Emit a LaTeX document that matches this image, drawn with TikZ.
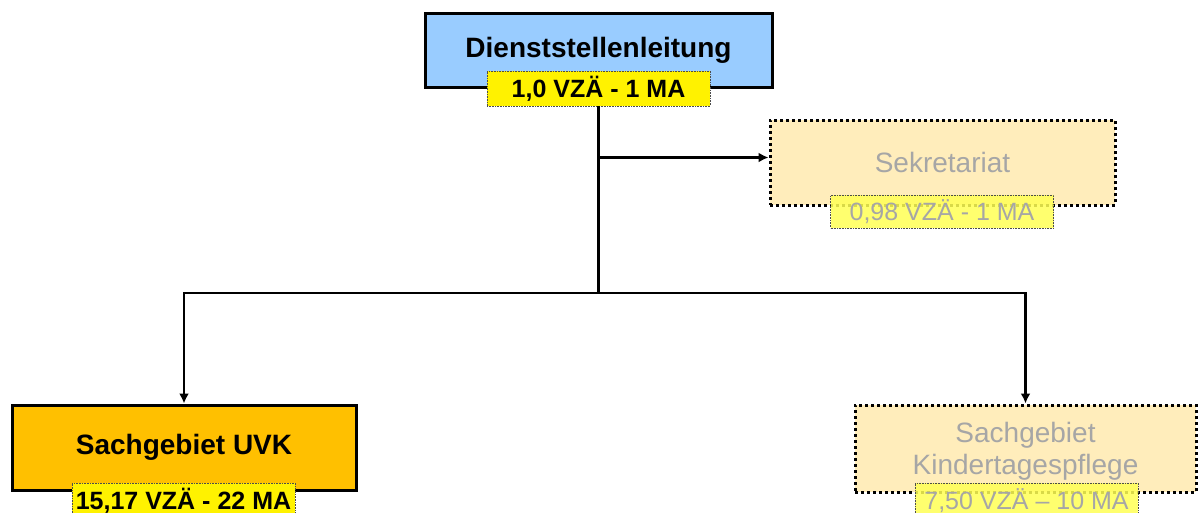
\documentclass[tikz,border=0pt]{standalone}
\usepackage{fontspec}
\setmainfont{Liberation Sans}
\usetikzlibrary{arrows.meta}
\definecolor{leadblue}{HTML}{99CCFF}
\definecolor{uvkorange}{HTML}{FFC000}
\definecolor{palefill}{HTML}{FFEDBB}
\definecolor{paleyellow}{HTML}{FFFF55}
\definecolor{fadedtext}{HTML}{A6A6A6}
\tikzset{unit box/.style={rectangle,draw=black,line width=3pt,inner sep=0pt,align=center,
    font=\fontsize{28}{32}\selectfont},
  faded box/.style={unit box,fill=palefill,text=fadedtext,dash pattern=on 3pt off 3pt},
  count box/.style={rectangle,fill=yellow,draw=black!70,line width=0.6pt,densely dotted,
    inner sep=0pt,minimum width=223pt,minimum height=35pt,font=\bfseries\fontsize{25}{28}\selectfont},
  faded count/.style={count box,fill=paleyellow,fill opacity=0.85,text opacity=1,text=fadedtext,
    font=\fontsize{25}{28}\selectfont},
  link/.style={draw,line width=2.8pt,-{Latex[length=10pt,width=10pt]}},
}

\begin{document}
\begin{tikzpicture}[x=1pt,y=-1pt]
				\useasboundingbox (0,0) rectangle (1198,512);
				% leitung
				\node[unit box,fill=leadblue,minimum width=347pt,minimum height=74pt,font=\bfseries\fontsize{28}{32}\selectfont] (DL) at (598.5,50) {Dienststellenleitung};
				\node[count box] (DLcount) at (598.5,88.5) {1,0 VZÄ - 1 MA};
				
				% stabsstelle
				\node[faded box,minimum width=345pt,minimum height=85pt] (SEK) at (942.5,162.5) {Sekretariat};
				\node[faded count,minimum height=33pt] (SEKcount) at (942,211.5) {0,98 VZÄ - 1 MA};
				
				% sachgebiete
				\node[unit box,fill=uvkorange,minimum width=344pt,minimum height=85pt,font=\bfseries\fontsize{28}{32}\selectfont] (UVK) at (184,447.5) {Sachgebiet UVK};
				\node[count box] (UVKcount) at (183.5,500.5) {15,17 VZÄ - 22 MA};
				
				\node[faded box,minimum width=341pt,minimum height=87pt,text depth=0pt] (KTP) at (1025.5,448.5) {Sachgebiet\\Kindertagespflege};
				\node[faded count] (KTPcount) at (1026.5,500.5) {7,50 VZÄ -- 10 MA};
				
				\coordinate (bus) at (598.5,293);
				
				\draw[line width=2.8pt] (DLcount.south) -- (bus);
				\path[link] (DLcount.south |- 0,157.5) -- ([yshift=5pt]SEK.west);
				\path[link] (bus) -| (UVK.north);
				\path[link] (bus) -| (KTP.north);
				
			\end{tikzpicture}
\end{document}
